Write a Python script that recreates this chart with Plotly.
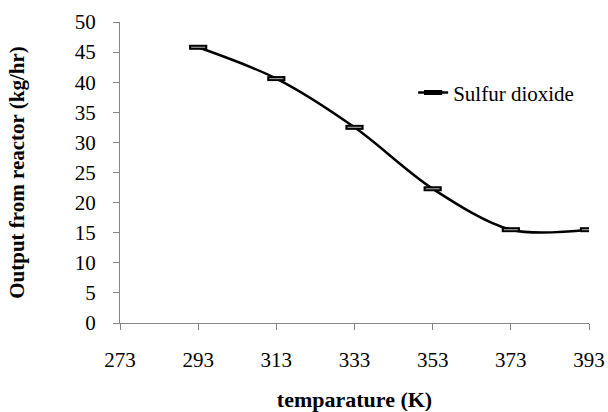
import plotly.graph_objects as go

temps = [293, 313, 333, 353, 373, 393]
so2 = [45.8, 40.6, 32.5, 22.3, 15.5, 15.5]
x_ticks = [273, 293, 313, 333, 353, 373, 393]
y_ticks = [0, 5, 10, 15, 20, 25, 30, 35, 40, 45, 50]

font_family = "Times New Roman, Liberation Serif, serif"

fig = go.Figure()
fig.add_trace(go.Scatter(
    x=temps, y=so2, mode="lines+markers", name="Sulfur dioxide",
    line=dict(color="black", width=2.5, shape="spline", smoothing=0.9),
    marker=dict(symbol="line-ew", size=13, line=dict(color="black", width=5)),
))
fig.add_trace(go.Scatter(
    x=temps, y=so2, mode="markers", showlegend=False, hoverinfo="skip",
    marker=dict(symbol="line-ew", size=10, line=dict(color="#9a9a9a", width=1.2)),
))

axis_common = dict(
    showgrid=False, zeroline=False, showline=True, linecolor="#868686", linewidth=1.3,
    ticks="outside", tickcolor="#868686", ticklen=6, tickwidth=1.3, automargin=False,
    tickfont=dict(family=font_family, size=21, color="black"),
)

fig.update_layout(
    width=608, height=412,
    margin=dict(l=120, r=19, t=22, b=89),
    paper_bgcolor="white", plot_bgcolor="white",
    font=dict(family=font_family, color="black"),
    xaxis=dict(range=[273, 393], tickvals=x_ticks, ticklabelstandoff=12,
               title=dict(text="<b>temparature (K)</b>", font=dict(family=font_family, size=22), standoff=32),
               **axis_common),
    yaxis=dict(range=[0, 50], tickvals=y_ticks, ticklabelstandoff=13,
               title=dict(text="<b>Output from reactor (kg/hr)</b>", font=dict(family=font_family, size=21), standoff=44),
               **axis_common),
    legend=dict(x=0.625, y=0.765, xanchor="left", yanchor="middle",
                font=dict(family=font_family, size=21, color="black"),
                bgcolor="rgba(0,0,0,0)"),
)

fig.write_html("out.html")
